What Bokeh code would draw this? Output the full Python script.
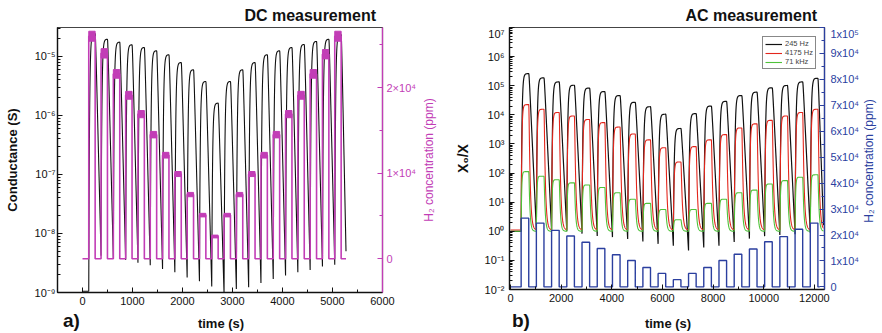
import numpy as np
from bokeh.plotting import figure
from bokeh.layouts import row, column
from bokeh.models import (Range1d, LinearAxis, LinearScale, FixedTicker, Legend,
                          LegendItem, CustomJSTickFormatter, Div, Spacer)
from bokeh.embed import file_html
from bokeh.resources import INLINE

# ---------------- panel a) DC measurement ----------------
dc_x_ticks = [0, 1000, 2000, 3000, 4000, 5000, 6000]
dc_first_on_s = 125
dc_period_s = 246
dc_on_s = 128
dc_end_s = 5270
dc_h2_ppm = [26000, 24000, 21600, 19100, 16900, 14500, 12100, 9900, 7500, 5100, 2600,
             5100, 7500, 9900, 12100, 14500, 16900, 19100, 21600, 23900, 26000]
dc_peak_S = [2.45e-5, 1.96e-5, 1.75e-5, 1.58e-5, 1.42e-5, 1.25e-5, 1.07e-5, 7.9e-6, 5.95e-6,
             3.77e-6, 1.62e-6, 3.77e-6, 5.95e-6, 7.9e-6, 1.07e-5, 1.25e-5, 1.42e-5, 1.6e-5,
             1.8e-5, 1.96e-5, 2.36e-5]
dc_trough_S = [1.05e-9, 4.2e-9, 3.8e-9, 3.55e-9, 3.2e-9, 2.9e-9, 2.5e-9, 2.2e-9, 1.8e-9,
               1.55e-9, 1.26e-9, 0.95e-9, 1.15e-9, 1.23e-9, 1.45e-9, 1.7e-9, 1.95e-9,
               2.2e-9, 2.4e-9, 2.75e-9, 2.95e-9]
dc_final_S = 5.0e-9
dc_h2_ticks = [0, 10000, 20000]

# ---------------- panel b) AC measurement ----------------
ac_x_ticks = [0, 2000, 4000, 6000, 8000, 10000, 12000]
ac_first_on_s = 420
ac_period_s = 601
ac_on_s = 300
ac_end_s = 12360
ac_h2_ppm = [26500, 24600, 21800, 19600, 17200, 14800, 12400, 10200, 7500, 5200, 2800,
             5200, 7500, 10200, 12600, 14600, 17400, 19400, 22200, 24600]
ac_peak_245 = [2.6e5, 1.86e5, 1.35e5, 1.04e5, 8.3e4, 6.3e4, 4.6e4, 2.7e4, 1.9e4, 1.05e4,
               3.4e3, 1.1e4, 2.0e4, 2.9e4, 4.6e4, 6.0e4, 8.5e4, 1.02e5, 1.35e5, 1.8e5]
ac_trough_245 = [1.0, 1.12, 1.07, 1.0, 0.83, 0.69, 0.63, 0.54, 0.45, 0.37, 0.32, 0.22,
                 0.28, 0.32, 0.43, 0.56, 0.68, 0.74, 0.79, 0.89]
ac_final_245 = 1.6
ac_peak_4175 = [2.24e4, 1.55e4, 1.2e4, 9.1e3, 6.9e3, 5.4e3, 3.8e3, 2.2e3, 1.38e3, 740,
                240, 810, 1380, 2090, 3550, 4900, 6460, 9120, 1.2e4, 1.55e4]
ac_floor_4175 = 1.1
ac_peak_71k = [112, 78, 59, 46, 39, 32, 21, 12.6, 9.1, 5.6, 2.5, 5.6, 9.1, 12.6, 21, 26,
               42, 55, 72, 87]
ac_floor_71k = 1.0
ac_h2_ticks = [0, 10000, 20000, 30000, 40000, 50000, 60000, 70000, 80000, 90000, 100000]
legend_labels = ["245 Hz", "4175 Hz", "71 kHz"]

FONT = "Liberation Sans"
MAG = "#c23db6"
BLUE = "#2b3f9f"
INK = "#111111"


def v_response(t_first, period, t_on, t_end, peaks, troughs, final, tau_r, c, n=40):
    """Sensor response (log space) between the read peak and trough values."""
    ts, ls = [0.0], [np.log10(troughs[0])]
    N = len(peaks)
    for k in range(N):
        st = t_first + k * period
        lt, lp = np.log10(troughs[k]), np.log10(peaks[k])
        s = np.linspace(0, t_on, n)
        ls += list(lt + (lp - lt) * (1 - np.exp(-s / tau_r)) / (1 - np.exp(-t_on / tau_r)))
        ts += list(st + s)
        d = (period - t_on) if k < N - 1 else (t_end - st - t_on)
        ln = np.log10(troughs[k + 1]) if k < N - 1 else np.log10(final)
        s = np.linspace(0, d, n)[1:]
        u = np.sqrt(s ** 2 + c ** 2) - c
        ud = np.sqrt(d ** 2 + c ** 2) - c
        ls += list(lp - (lp - ln) * u / ud)
        ts += list(st + t_on + s)
    return np.array(ts), 10 ** np.array(ls)


def floor_response(t_first, period, t_on, t_end, peaks, floor, tau_r, tau_d, c, n=50):
    lf = np.log10(floor)
    ts, ls = [0.0], [lf]
    lb = lf
    N = len(peaks)
    for k in range(N):
        st = t_first + k * period
        lp = np.log10(peaks[k])
        s = np.linspace(0, t_on, n)
        ls += list(lb + (lp - lb) * (1 - np.exp(-s / tau_r)) / (1 - np.exp(-t_on / tau_r)))
        ts += list(st + s)
        d = (period - t_on) if k < N - 1 else (t_end - st - t_on)
        s = np.linspace(0, d, n)[1:]
        u = np.sqrt(s ** 2 + c ** 2) - c
        off = lf + (lp - lf) * np.exp(-u / tau_d)
        ls += list(off)
        ts += list(st + t_on + s)
        lb = off[-1]
    return np.array(ts), 10 ** np.array(ls)


def steps(t_first, period, t_on, t_end, levels):
    ts, ys = [0.0], [0.0]
    for k, lev in enumerate(levels):
        st = t_first + k * period
        ts += [st, st, st + t_on, st + t_on]
        ys += [0, lev, lev, 0]
    ts.append(t_end)
    ys.append(0)
    return ts, ys


SUP_JS = """
const s = {"0":"\\u2070","1":"\\u00b9","2":"\\u00b2","3":"\\u00b3","4":"\\u2074","5":"\\u2075",
           "6":"\\u2076","7":"\\u2077","8":"\\u2078","9":"\\u2079","-":"\\u207b"};
function sup(e) { return String(e).split("").map(c => s[c]).join(""); }
"""
log_fmt = CustomJSTickFormatter(code=SUP_JS + """
const e = Math.round(Math.log10(tick));
return "10" + sup(e);
""")


def sci_fmt(sep):
    return CustomJSTickFormatter(code=SUP_JS + """
if (Math.abs(tick) < 1e-9) return "0";
const e = Math.floor(Math.log10(Math.abs(tick)) + 1e-9);
const m = Math.round(tick / Math.pow(10, e));
return m + "%s" + "10" + sup(e);
""" % sep)


def log_minors(e0, e1, top):
    out = []
    for e in range(e0, e1 + 1):
        for m in range(2, 10):
            v = m * 10.0 ** e
            if v <= top:
                out.append(v)
    return out


def style_axis(ax, color=INK, standoff=3):
    ax.axis_line_color = color
    ax.axis_line_width = 1.3
    ax.major_tick_line_color = color
    ax.minor_tick_line_color = color
    ax.major_tick_in = 5
    ax.major_tick_out = 0
    ax.minor_tick_in = 3
    ax.minor_tick_out = 0
    ax.major_label_text_font = FONT
    ax.major_label_text_font_size = "11px"
    ax.major_label_text_color = color
    ax.major_label_standoff = standoff
    ax.axis_label_text_font = FONT
    ax.axis_label_text_font_size = "13px"
    ax.axis_label_text_font_style = "bold"
    ax.axis_label_text_color = INK


FONT_CSS = "font-family:'Liberation Sans',Arial,sans-serif;"


def span(txt, left=None, right=None, top=0.0, size=13, bold=True, center=False, color=INK):
    if center:
        pos = "left:%dpx;width:120px;margin-left:-60px;text-align:center;" % left
    elif right is not None:
        pos = "right:%dpx;" % right
    else:
        pos = "left:%dpx;" % left
    return ('<span style="position:absolute;%stop:%.1fpx;font-size:%dpx;line-height:%dpx;'
            'font-weight:%s;color:%s;white-space:nowrap;">%s</span>'
            % (pos, top, size, size, "bold" if bold else "normal", color, txt))


def strip(width, height, inner):
    html = ('<div style="position:relative;width:%dpx;height:%dpx;overflow:visible;%s">%s</div>'
            % (width, height, FONT_CSS, inner))
    return Div(text=html, width=width, height=height, margin=0)


def vlabel(width, height, cx, cy, txt, color):
    inner = ('<span style="position:absolute;left:%.1fpx;top:%.1fpx;font-size:12px;line-height:12px;'
             'color:%s;white-space:nowrap;transform:translate(-50%%,-50%%) rotate(-90deg);">%s</span>'
             % (cx, cy, color, txt))
    return strip(width, height, inner)


ROW_H = 287
BOTTOM = 22

# ====================== figure a ======================
p1 = figure(width=419, height=ROW_H, x_range=Range1d(-500, 6000), y_range=Range1d(1e-9, 3.1e-5),
            y_axis_type="log", output_backend="svg", toolbar_location=None, title=None,
            min_border_left=57, min_border_right=34, min_border_top=0, min_border_bottom=BOTTOM)
p1.extra_y_ranges = {"h2": Range1d(-3940, 27020)}
p1.extra_y_scales = {"h2": LinearScale()}
p1.grid.visible = False
p1.outline_line_color = "#444444"
p1.outline_line_width = 1.2

t, g = v_response(dc_first_on_s, dc_period_s, dc_on_s, dc_end_s, dc_peak_S, dc_trough_S,
                  dc_final_S, tau_r=15, c=8)
p1.line(t, g, line_color=INK, line_width=1.1)

ht, hy = steps(dc_first_on_s, dc_period_s, dc_on_s, dc_end_s, dc_h2_ppm)
p1.line(ht, hy, line_color=MAG, line_width=1.6, y_range_name="h2")
ppm_per_px = 10000 / 85.6
band = [(2 + 8 * c / 26000) * ppm_per_px for c in dc_h2_ppm]
starts = [dc_first_on_s + k * dc_period_s for k in range(len(dc_h2_ppm))]
p1.quad(left=starts, right=[s + dc_on_s for s in starts],
        bottom=[c - b / 2 for c, b in zip(dc_h2_ppm, band)],
        top=[c + b / 2 for c, b in zip(dc_h2_ppm, band)],
        fill_color=MAG, line_color=MAG, y_range_name="h2")

xa = p1.xaxis[0]
style_axis(xa, standoff=4)
xa.ticker = FixedTicker(ticks=dc_x_ticks, minor_ticks=[-500] + [v + 500 for v in dc_x_ticks[:-1]])

ya = p1.yaxis[0]
style_axis(ya, standoff=2)
ya.ticker = FixedTicker(ticks=[1e-9, 1e-8, 1e-7, 1e-6, 1e-5], minor_ticks=log_minors(-9, -5, 3.1e-5))
ya.formatter = log_fmt
ya.axis_label = "Conductance (S)"
ya.axis_label_standoff = 12

ra = LinearAxis(y_range_name="h2")
style_axis(ra, color=MAG, standoff=4)
ra.ticker = FixedTicker(ticks=dc_h2_ticks, minor_ticks=[5000, 15000, 25000])
ra.formatter = sci_fmt("\u00d7")
p1.add_layout(ra, "right")

# ====================== figure b ======================
p2 = figure(width=422, height=ROW_H - 3, x_range=Range1d(-40, 12400),
            y_range=Range1d(1e-2, 1e7),
            y_axis_type="log", output_backend="svg", toolbar_location=None, title=None,
            min_border_left=69, min_border_right=35, min_border_top=0, min_border_bottom=BOTTOM)
p2.extra_y_ranges = {"h2": Range1d(-1000, 100000)}
p2.extra_y_scales = {"h2": LinearScale()}
p2.grid.visible = False
p2.outline_line_color = "#444444"
p2.outline_line_width = 1.2

tb, yb = v_response(ac_first_on_s, ac_period_s, ac_on_s, ac_end_s, ac_peak_245, ac_trough_245,
                    ac_final_245, tau_r=30, c=15)
r_b = p2.line(tb, yb, line_color=INK, line_width=1.2)
tr, yr = floor_response(ac_first_on_s, ac_period_s, ac_on_s, ac_end_s, ac_peak_4175,
                        ac_floor_4175, tau_r=25, tau_d=50, c=12)
r_r = p2.line(tr, yr, line_color="#e3261c", line_width=1.1)
tg, yg = floor_response(ac_first_on_s, ac_period_s, ac_on_s, ac_end_s, ac_peak_71k,
                        ac_floor_71k, tau_r=20, tau_d=40, c=10)
r_g = p2.line(tg, yg, line_color="#4fc23a", line_width=1.1)

bt, by = steps(ac_first_on_s, ac_period_s, ac_on_s, ac_end_s - 150, ac_h2_ppm)
p2.line(bt, by, line_color=BLUE, line_width=1.4, y_range_name="h2")

xb = p2.xaxis[0]
style_axis(xb, standoff=4)
xb.ticker = FixedTicker(ticks=ac_x_ticks, minor_ticks=[v + 1000 for v in ac_x_ticks])

yb_ax = p2.yaxis[0]
style_axis(yb_ax, standoff=5)
yb_ax.ticker = FixedTicker(ticks=[10.0 ** e for e in range(-2, 8)], minor_ticks=log_minors(-2, 6, 1e7))
yb_ax.formatter = log_fmt
yb_ax.axis_label = "X\u2080/X"
yb_ax.axis_label_text_font_size = "14px"
yb_ax.axis_label_standoff = 11

rb = LinearAxis(y_range_name="h2")
style_axis(rb, color=BLUE, standoff=6)
rb.ticker = FixedTicker(ticks=ac_h2_ticks, minor_ticks=[v + 5000 for v in ac_h2_ticks[:-1]])
rb.formatter = sci_fmt("x")
p2.add_layout(rb, "right")

leg = Legend(items=[LegendItem(label=legend_labels[0], renderers=[r_b]),
                    LegendItem(label=legend_labels[1], renderers=[r_r]),
                    LegendItem(label=legend_labels[2], renderers=[r_g])],
             location=(253, 220))
leg.label_text_font = FONT
leg.label_text_font_size = "7.5px"
leg.glyph_width = 17
leg.glyph_height = 8
leg.label_height = 8
leg.label_standoff = 3
leg.spacing = 0
leg.padding = 2
leg.margin = 0
leg.border_line_color = "#111111"
leg.border_line_width = 1
p2.add_layout(leg)

# ====================== text strips (titles, side titles, x titles, panel tags) ==========
header = strip(882, 27, span("DC measurement", right=882 - 376, top=7.5, size=16)
               + span("AC measurement", right=882 - 817, top=7.5, size=16))
side_a = vlabel(21, ROW_H, 10, 132.5, "H\u2082 concentration (ppm)", MAG)
side_b = vlabel(20, ROW_H, 7, 133.5, "H\u2082 concentration (ppm)", BLUE)
footer = strip(882, 19, span("a)", left=63, top=-3.2, size=19)
               + span("time (s)", left=221, top=2.5, size=13, center=True)
               + span("b)", left=512, top=-3.2, size=19)
               + span("time (s)", left=668, top=2.5, size=13, center=True))

col_b = column(p2, Spacer(width=422, height=3, margin=0))
layout = column(header, row(p1, side_a, col_b, side_b), footer)
open("out.html", "w").write(file_html(layout, INLINE))
